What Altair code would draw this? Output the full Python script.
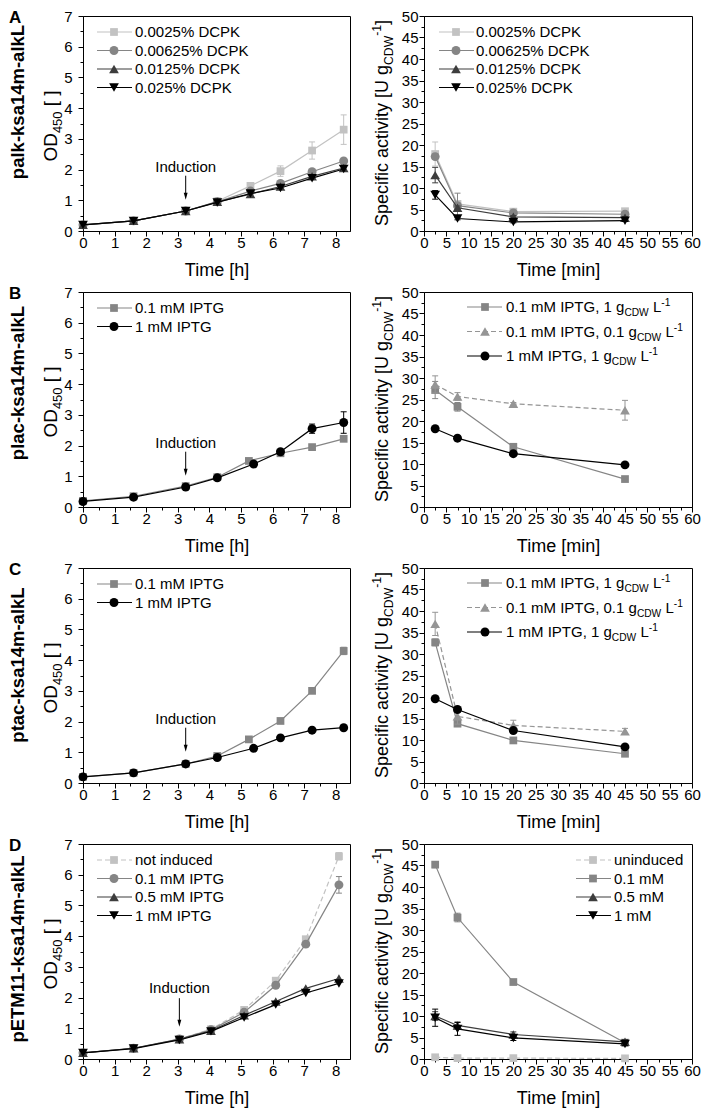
import altair as alt
import pandas as pd

FONT = "Liberation Sans"

# ---------------- data ----------------
# Row A : palk-ksa14m-alkL
A_OD_T = [0, 1.6, 3.25, 4.25, 5.3, 6.25, 7.25, 8.25]
A_OD_0025 = [0.20, 0.33, 0.65, 0.97, 1.47, 1.95, 2.62, 3.30]
A_OD_0025_E = [0, 0, 0, 0, 0.08, 0.17, 0.28, 0.48]
A_OD_00625 = [0.20, 0.33, 0.65, 0.95, 1.30, 1.55, 1.93, 2.28]
A_OD_00625_E = [0, 0, 0, 0, 0, 0.05, 0.05, 0.06]
A_OD_0125 = [0.20, 0.33, 0.65, 0.95, 1.20, 1.45, 1.78, 2.05]
A_OD_025 = [0.20, 0.33, 0.65, 0.93, 1.22, 1.40, 1.72, 2.02]

ACT_T = [2.5, 7.5, 20, 45]
A_ACT_0025 = [17.9, 6.3, 4.5, 4.6]
A_ACT_0025_E = [2.8, 0.5, 0.4, 0.4]
A_ACT_00625 = [17.3, 5.9, 4.2, 3.9]
A_ACT_00625_E = [0.6, 2.9, 0.3, 0.4]
A_ACT_0125 = [13.0, 5.4, 3.3, 3.1]
A_ACT_0125_E = [1.8, 0.4, 0.3, 0.2]
A_ACT_025 = [8.4, 2.9, 2.1, 2.4]
A_ACT_025_E = [1.0, 0.3, 0.2, 0.2]

# Row B : plac-ksa14m-alkL
B_OD_T01 = [0, 1.6, 3.25, 4.25, 5.25, 6.25, 7.25, 8.25]
B_OD_01 = [0.20, 0.35, 0.68, 0.97, 1.50, 1.75, 1.95, 2.22]
B_OD_01_E = [0, 0, 0, 0, 0.06, 0.04, 0.04, 0.05]
B_OD_T1 = [0, 1.6, 3.25, 4.25, 5.4, 6.25, 7.25, 8.25]
B_OD_1 = [0.18, 0.32, 0.65, 0.95, 1.40, 1.80, 2.55, 2.75]
B_OD_1_E = [0, 0, 0, 0, 0, 0, 0.15, 0.35]

B_ACT_01_1G = [27.2, 23.3, 14.0, 6.5]
B_ACT_01_1G_E = [2.0, 1.0, 0.3, 0.2]
B_ACT_01_01G = [28.5, 25.7, 24.0, 22.5]
B_ACT_01_01G_E = [2.0, 0.9, 0.3, 2.3]
B_ACT_1_1G = [18.2, 16.0, 12.4, 9.8]
B_ACT_1_1G_E = [0.3, 0.3, 0.3, 0.3]

# Row C : ptac-ksa14m-alkL
C_OD_T01 = [0, 1.6, 3.25, 4.25, 5.25, 6.25, 7.25, 8.25]
C_OD_01 = [0.20, 0.33, 0.62, 0.88, 1.42, 2.02, 3.00, 4.30]
C_OD_01_E = [0, 0, 0, 0, 0, 0, 0, 0.12]
C_OD_T1 = [0, 1.6, 3.25, 4.25, 5.4, 6.25, 7.25, 8.25]
C_OD_1 = [0.20, 0.33, 0.62, 0.83, 1.13, 1.47, 1.72, 1.80]

C_ACT_01_1G = [32.7, 13.8, 9.9, 6.8]
C_ACT_01_1G_E = [0.8, 0.6, 0.4, 0.3]
C_ACT_01_01G = [37.0, 15.5, 13.4, 12.0]
C_ACT_01_01G_E = [2.7, 1.8, 1.2, 0.7]
C_ACT_1_1G = [19.6, 17.1, 12.2, 8.4]

# Row D : pETM11-ksa14m-alkL
D_OD_T = [0, 1.6, 3.05, 4.05, 5.1, 6.1, 7.05, 8.1]
D_OD_NI = [0.20, 0.35, 0.65, 0.97, 1.60, 2.55, 3.90, 6.60]
D_OD_NI_E = [0, 0, 0, 0, 0, 0, 0.08, 0.12]
D_OD_01 = [0.20, 0.35, 0.65, 0.95, 1.52, 2.40, 3.74, 5.67]
D_OD_01_E = [0, 0, 0, 0, 0, 0, 0.05, 0.27]
D_OD_05 = [0.20, 0.35, 0.64, 0.92, 1.42, 1.87, 2.30, 2.62]
D_OD_1 = [0.20, 0.34, 0.62, 0.90, 1.35, 1.77, 2.15, 2.46]

D_ACT_UN = [0.4, 0.2, 0.2, 0.15]
D_ACT_01 = [45.2, 32.9, 17.9, 3.8]
D_ACT_01_E = [0.7, 1.0, 0.3, 0.7]
D_ACT_05 = [10.0, 7.8, 5.7, 4.0]
D_ACT_05_E = [1.0, 0.8, 0.6, 0.5]
D_ACT_1 = [9.6, 7.0, 4.9, 3.5]
D_ACT_1_E = [2.0, 1.5, 0.6, 0.4]

# induction annotations: time, text level, arrow top, arrow tip
IND_ABC = [3.25, 2.07, 1.80, 1.02]
IND_D = [3.05, 2.30, 1.98, 1.05]

ROW_LABELS = ["palk-ksa14m-alkL", "plac-ksa14m-alkL", "ptac-ksa14m-alkL", "pETM11-ksa14m-alkL"]
LETTERS = ["A", "B", "C", "D"]

# ---------------- styling ----------------
LIGHT = "#c2c2c2"
MID = "#858585"
DARK = "#3d3d3d"
BLACK = "#000000"
DGRAY = "#959595"
SIZES = {"square": 60, "circle": 80, "triangle-up": 95, "triangle-down": 95}
H = 215
WL = 267
WR = 268

ONE = pd.DataFrame({"k": [0]})

AW = {' ': 278, '%': 889, ',': 278, '-': 333, '.': 278, '[': 278, ']': 278,
      'A': 667, 'B': 667, 'C': 722, 'D': 722, 'E': 667, 'G': 778, 'I': 278, 'K': 667,
      'L': 556, 'M': 833, 'O': 778, 'P': 667, 'S': 667, 'T': 611, 'U': 722, 'W': 944,
      'a': 556, 'c': 500, 'd': 556, 'e': 556, 'f': 278, 'g': 556, 'h': 556, 'i': 222,
      'k': 500, 'l': 222, 'm': 833, 'n': 556, 'o': 556, 'p': 556, 'r': 333, 's': 500,
      't': 278, 'u': 556, 'v': 500, 'y': 500}
SUB = 0.68


def tw(s, fs):
    return sum(AW.get(c, 556) for c in s) * fs / 1000.0


def rich(pieces, x, y, fs, angle=0, center=False, color="black"):
    sizes = [fs if k == "n" else fs * SUB for _, k in pieces]
    widths = [tw(t, f) for (t, _), f in zip(pieces, sizes)]
    off = -sum(widths) / 2 if center else 0.0
    out = []
    for (t, k), f, w in zip(pieces, sizes, widths):
        d = 0.0 if k == "n" else (0.27 * fs if k == "sub" else -0.40 * fs)
        stripped = t.lstrip(" ")
        lead = tw(t[:len(t) - len(stripped)], f)
        o = off + lead
        if angle == 0:
            px, py = x + o, y + d
        else:
            px, py = x + d, y - o
        out.append(alt.Chart(ONE).mark_text(
            text=stripped, font=FONT, fontSize=round(f, 2), align="left",
            baseline="alphabetic", angle=angle, color=color
        ).encode(x=alt.value(round(px, 2)), y=alt.value(round(py, 2))))
        off += w
    return out


def make_axis(major, minor, vmax, title=None, pad=3):
    n = int(round(vmax / minor))
    vals = [round(i * minor, 3) for i in range(n + 1)]
    kw = dict(values=vals,
              labelExpr=f"datum.value % {major} ? '' : '' + datum.value",
              tickSize={"condition": {"test": f"datum.value % {major} != 0", "value": 3}, "value": 5},
              tickColor="black", tickWidth=1, domainColor="black", domainWidth=1,
              labelFont=FONT, labelFontSize=15, labelColor="black", labelPadding=pad,
              labelOverlap=False, labelFlush=False, grid=False)
    if title:
        kw.update(title=title, titleFont=FONT, titleFontSize=18, titleFontWeight="normal",
                  titleColor="black", titleY=39, titleBaseline="middle")
    else:
        kw.update(title=None)
    return alt.Axis(**kw)


def S(label, t, v, e, color, shape, dash=False):
    return dict(label=label, t=t, v=v, e=e if e else [0] * len(v), color=color, shape=shape, dash=dash)


def legend_layers(series, xl0, xl1, xm, xt, ys, fs=15):
    out = []
    for s, y in zip(series, ys):
        kw = {"strokeDash": [5, 3]} if s["dash"] else {}
        out.append(alt.Chart(ONE).mark_rule(color=s["color"], strokeWidth=1.2, **kw).encode(
            x=alt.value(xl0), x2=alt.value(xl1), y=alt.value(y)))
        out.append(alt.Chart(ONE).mark_point(shape=s["shape"], filled=True, size=SIZES[s["shape"]],
                                             color=s["color"], opacity=1).encode(
            x=alt.value(xm), y=alt.value(y)))
        out += rich(s["label"], xt, y + 0.36 * fs, fs)
    return out


def build_panel(kind, series, leg, row=None, induction=None):
    if kind == "od":
        width = WL
        xs = alt.Scale(domain=[0, 8.45], nice=False, zero=False)
        ys = alt.Scale(domain=[0, 7], nice=False, zero=False)
        xax = make_axis(1, 0.5, 8, "Time [h]", pad=-1)
        yax = make_axis(1, 0.5, 7, pad=6)
    else:
        width = WR
        xs = alt.Scale(domain=[0, 60], nice=False, zero=False)
        ys = alt.Scale(domain=[0, 50], nice=False, zero=False)
        xax = make_axis(5, 2.5, 60, "Time [min]", pad=-1)
        yax = make_axis(5, 2.5, 50, pad=1)

    def X(f):
        return alt.X(f"{f}:Q", scale=xs, axis=xax)

    def Y(f):
        return alt.Y(f"{f}:Q", scale=ys, axis=yax)

    layers = []
    for s in series:
        df = pd.DataFrame({"t": s["t"], "v": s["v"], "e": s["e"]})
        df["lo"] = df["v"] - df["e"]
        df["hi"] = df["v"] + df["e"]
        dash = {"strokeDash": [5, 3]} if s["dash"] else {}
        layers.append(alt.Chart(df).mark_line(color=s["color"], strokeWidth=1.2, **dash).encode(
            x=X("t"), y=Y("v")))
        de = df[df["e"] > 0]
        if len(de):
            layers.append(alt.Chart(de).mark_rule(color=s["color"], strokeWidth=1).encode(
                x=X("t"), y=Y("lo"), y2=alt.Y2("hi")))
            for f in ("lo", "hi"):
                layers.append(alt.Chart(de).mark_point(shape="stroke", size=36, color=s["color"],
                                                       strokeWidth=1, filled=False, opacity=1).encode(
                    x=X("t"), y=Y(f)))
        layers.append(alt.Chart(df).mark_point(shape=s["shape"], filled=True, size=SIZES[s["shape"]],
                                               color=s["color"], opacity=1).encode(x=X("t"), y=Y("v")))

    if induction:
        t, ty, a0, a1 = induction
        di = pd.DataFrame({"t": [t], "ty": [ty], "a0": [a0], "ah": [a1 + 0.11]})
        layers.append(alt.Chart(di).mark_text(text="Induction", font=FONT, fontSize=15, align="center",
                                              baseline="middle", color="black").encode(x=X("t"), y=Y("ty")))
        layers.append(alt.Chart(di).mark_rule(color="black", strokeWidth=1).encode(
            x=X("t"), y=Y("a0"), y2=alt.Y2("ah")))
        layers.append(alt.Chart(di).mark_point(shape="M-0.55,-1L0.55,-1L0,1Z", filled=True, size=49,
                                               color="black", opacity=1).encode(x=X("t"), y=Y("ah")))

    layers += legend_layers(series, *leg)

    if kind == "od":
        layers += rich([("OD", "n"), ("450", "sub"), (" [ ]", "n")], -26, 110, 19, angle=270, center=True)
    else:
        layers += rich([("Specific activity [U g", "n"), ("CDW", "sub"), ("-1", "sup"), ("]", "n")],
                       -36, 107, 18, angle=270, center=True)

    if row is not None:
        letter, label, cy = row
        layers.append(alt.Chart(ONE).mark_text(text=letter, font=FONT, fontSize=17, fontWeight="bold",
                                               align="left", baseline="top", color="black").encode(
            x=alt.value(-74), y=alt.value(-6)))
        layers.append(alt.Chart(ONE).mark_text(text=label, font=FONT, fontSize=18.5, fontWeight="bold",
                                               angle=270, align="center", baseline="middle",
                                               color="black").encode(x=alt.value(-65), y=alt.value(cy)))

    return alt.layer(*layers).properties(width=width, height=H)


def P(txt):
    return [(txt, "n")]


def G(prefix, conc):
    return [(prefix + ", " + conc + " g", "n"), ("CDW", "sub"), (" L", "n"), ("-1", "sup")]


LEG_L = (14, 49, 31, 52, [16, 34.5, 53, 71.5])
LEG_AR = (15, 50, 32, 52, [16, 34.5, 53, 71.5])
LEG_BCR = (43, 78, 61, 82, [15, 39.5, 64])
LEG_DR = (152, 187, 169, 190, [16, 34.5, 53, 71.5])

# Row A
a_od = [S(P("0.0025% DCPK"), A_OD_T, A_OD_0025, A_OD_0025_E, LIGHT, "square"),
        S(P("0.00625% DCPK"), A_OD_T, A_OD_00625, A_OD_00625_E, MID, "circle"),
        S(P("0.0125% DCPK"), A_OD_T, A_OD_0125, None, DARK, "triangle-up"),
        S(P("0.025% DCPK"), A_OD_T, A_OD_025, None, BLACK, "triangle-down")]
a_act = [S(P("0.0025% DCPK"), ACT_T, A_ACT_0025, A_ACT_0025_E, LIGHT, "square"),
         S(P("0.00625% DCPK"), ACT_T, A_ACT_00625, A_ACT_00625_E, MID, "circle"),
         S(P("0.0125% DCPK"), ACT_T, A_ACT_0125, A_ACT_0125_E, DARK, "triangle-up"),
         S(P("0.025% DCPK"), ACT_T, A_ACT_025, A_ACT_025_E, BLACK, "triangle-down")]

# Row B
b_od = [S(P("0.1 mM IPTG"), B_OD_T01, B_OD_01, B_OD_01_E, MID, "square"),
        S(P("1 mM IPTG"), B_OD_T1, B_OD_1, B_OD_1_E, BLACK, "circle")]
b_act = [S(G("0.1 mM IPTG", "1"), ACT_T, B_ACT_01_1G, B_ACT_01_1G_E, MID, "square"),
         S(G("0.1 mM IPTG", "0.1"), ACT_T, B_ACT_01_01G, B_ACT_01_01G_E, DGRAY, "triangle-up", dash=True),
         S(G("1 mM IPTG", "1"), ACT_T, B_ACT_1_1G, B_ACT_1_1G_E, BLACK, "circle")]

# Row C
c_od = [S(P("0.1 mM IPTG"), C_OD_T01, C_OD_01, C_OD_01_E, MID, "square"),
        S(P("1 mM IPTG"), C_OD_T1, C_OD_1, None, BLACK, "circle")]
c_act = [S(G("0.1 mM IPTG", "1"), ACT_T, C_ACT_01_1G, C_ACT_01_1G_E, MID, "square"),
         S(G("0.1 mM IPTG", "0.1"), ACT_T, C_ACT_01_01G, C_ACT_01_01G_E, DGRAY, "triangle-up", dash=True),
         S(G("1 mM IPTG", "1"), ACT_T, C_ACT_1_1G, None, BLACK, "circle")]

# Row D
d_od = [S(P("not induced"), D_OD_T, D_OD_NI, D_OD_NI_E, LIGHT, "square", dash=True),
        S(P("0.1 mM IPTG"), D_OD_T, D_OD_01, D_OD_01_E, MID, "circle"),
        S(P("0.5 mM IPTG"), D_OD_T, D_OD_05, None, DARK, "triangle-up"),
        S(P("1 mM IPTG"), D_OD_T, D_OD_1, None, BLACK, "triangle-down")]
d_act = [S(P("uninduced"), ACT_T, D_ACT_UN, None, LIGHT, "square", dash=True),
         S(P("0.1 mM"), ACT_T, D_ACT_01, D_ACT_01_E, MID, "square"),
         S(P("0.5 mM"), ACT_T, D_ACT_05, D_ACT_05_E, DARK, "triangle-up"),
         S(P("1 mM"), ACT_T, D_ACT_1, D_ACT_1_E, BLACK, "triangle-down")]

ROW_CY = [86, 91, 97, 105]

panels = [
    build_panel("od", a_od, LEG_L, (LETTERS[0], ROW_LABELS[0], ROW_CY[0]), IND_ABC),
    build_panel("act", a_act, LEG_AR),
    build_panel("od", b_od, LEG_L, (LETTERS[1], ROW_LABELS[1], ROW_CY[1]), IND_ABC),
    build_panel("act", b_act, LEG_BCR),
    build_panel("od", c_od, LEG_L, (LETTERS[2], ROW_LABELS[2], ROW_CY[2]), IND_ABC),
    build_panel("act", c_act, LEG_BCR),
    build_panel("od", d_od, LEG_L, (LETTERS[3], ROW_LABELS[3], ROW_CY[3]), IND_D),
    build_panel("act", d_act, LEG_DR),
]

chart = alt.concat(
    *panels, columns=2, bounds="flush", spacing={"row": 61, "column": 74}
).properties(
    padding={"left": 0, "top": 0, "right": 0, "bottom": 0}
).configure_view(stroke="black", strokeWidth=1)

chart.save("out.html", embed_options={"renderer": "svg", "actions": False})
